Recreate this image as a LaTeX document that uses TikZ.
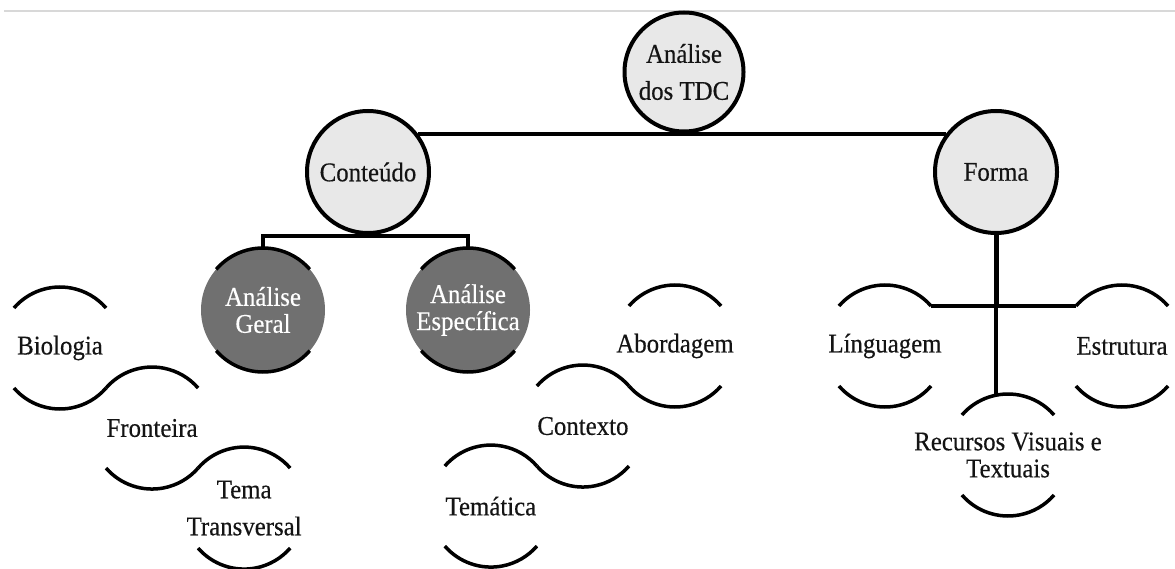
\documentclass[tikz,border=0pt]{standalone}
\usepackage{fontspec}
\setmainfont{Liberation Serif}[FakeStretch=0.92,FakeBold=0.4]
\usetikzlibrary{calc}
\definecolor{lightfill}{HTML}{E8E8E8}
\definecolor{darkfill}{HTML}{707070}
\definecolor{topline}{HTML}{D8D8D8}
\newcommand\toparc[2]{\draw[arcl] (#1.center) ++(139:#2) arc[start angle=139,end angle=41,radius=#2];}
\newcommand\botarc[2]{\draw[arcl] (#1.center) ++(221:#2) arc[start angle=221,end angle=319,radius=#2];}
\begin{document}
\begin{tikzpicture}[x=1pt,y=1pt,
  lbl/.style={font=\fontsize{27}{27}\selectfont, align=center, text=black!92, inner sep=0pt},
  tall/.style={font=\fontsize{27}{37}\selectfont},
  bigc/.style={circle, draw=black, line width=4pt, fill=lightfill, minimum size=119pt, inner sep=0pt},
  darkc/.style={circle, fill=darkfill, minimum size=124pt, inner sep=0pt, outer sep=0pt},
  item/.style={circle, minimum size=122pt, inner sep=0pt, outer sep=0pt},
  arcl/.style={line width=3.5pt, black},
  conn/.style={line width=3.5pt, black}]
\useasboundingbox (0,0) rectangle (1175,-569);
\draw[line width=1.2pt, topline] (4,-11) -- (1175,-11);

% main circles
\node[bigc, label={[lbl,tall]center:Análise\\dos TDC}] (root) at (684,-72) {};
\node[bigc, minimum size=122pt, label={[lbl]center:Conteúdo}] (cont) at (368,-172) {};
\node[bigc, minimum size=122pt, label={[lbl]center:Forma}] (forma) at (996,-172) {};

% dark circles
\node[darkc, label={[lbl,text=white]center:Análise\\Geral}] (geral) at (263,-310) {};
\node[darkc, label={[lbl,text=white]center:Análise\\Específica}] (espec) at (468,-310) {};
\toparc{geral}{62}\botarc{geral}{62}
\toparc{espec}{62}\botarc{espec}{62}

% left chain
\node[item, label={[lbl]center:Biologia}] (bio) at (60,-348) {};
\node[item, label={[lbl]center:Fronteira}] (fron) at (152.07,-428.04) {};
\node[item, label={[lbl,tall]center:Tema\\Transversal}] (tema) at (244.14,-508.08) {};
\foreach \n in {bio,fron,tema}{\toparc{\n}{61}\botarc{\n}{61}}

% middle chain
\node[item, label={[lbl]center:Abordagem}] (abor) at (675,-346) {};
\node[item, label={[lbl]center:Contexto}] (ctx) at (582.93,-426.04) {};
\node[item, label={[lbl]center:Temática}] (temat) at (490.86,-506.08) {};
\foreach \n in {abor,ctx,temat}{\toparc{\n}{61}\botarc{\n}{61}}

% right group
\node[item, label={[lbl]center:Línguagem}] (ling) at (885,-346) {};
\node[item, label={[lbl]center:Estrutura}] (estr) at (1122,-346) {};
\node[item, label={[lbl]center:Recursos Visuais e\\Textuais}] (rec) at (1008,-455) {};
\foreach \n in {ling,estr,rec}{\toparc{\n}{61}\botarc{\n}{61}}

% connectors
\draw[conn] (cont.37) -- (forma.143);
\coordinate (bk) at (368,-236);
\draw[conn] (cont.south) -- (bk);
\draw[conn] (geral.north) -- (geral.north |- bk) -- (espec.north |- bk) -- (espec.north);
\coordinate (lingend) at ($(ling.center)+(41:61)$);
\coordinate (estrend) at ($(estr.center)+(139:61)$);
\coordinate (fj) at (forma.south |- lingend);
\draw[line width=5pt] (forma.south) -- (fj);
\draw[conn] (fj) -- (forma.south |- rec.north);
\draw[conn] (lingend) -- (estrend);
\end{tikzpicture}
\end{document}
